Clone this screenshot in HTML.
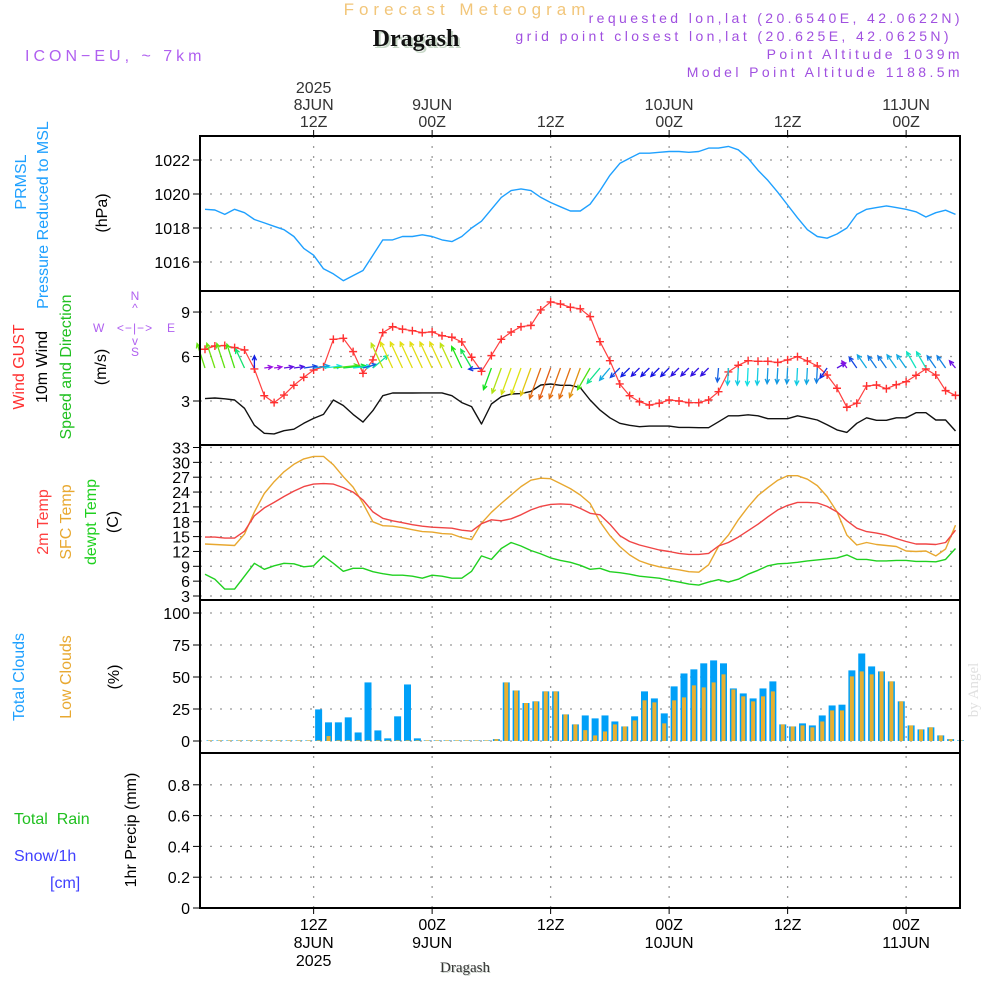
<!DOCTYPE html>
<html><head><meta charset="utf-8"><title>Forecast Meteogram Dragash</title>
<style>
html,body{margin:0;padding:0;background:#fff;}
#wrap{position:relative;width:1000px;height:1000px;overflow:hidden;font-family:"Liberation Sans",sans-serif;}
svg{position:absolute;left:0;top:0;}
</style></head>
<body>
<div id="wrap">
<svg id="chart" width="1000" height="1000" viewBox="0 0 1000 1000" xmlns="http://www.w3.org/2000/svg">
<g font-family="Liberation Sans, sans-serif">
<text x="467" y="15" text-anchor="middle" font-size="17" fill="#f2c67a" letter-spacing="5">Forecast Meteogram</text>
<text x="418" y="48" text-anchor="middle" font-size="24" font-weight="bold" font-family="Liberation Serif, serif" fill="#c8d8c8">Dragash</text>
<text x="416" y="46" text-anchor="middle" font-size="24" font-weight="bold" font-family="Liberation Serif, serif" fill="#111">Dragash</text>
<text x="25" y="61" font-size="16" fill="#b060f0" letter-spacing="4">ICON−EU, ~ 7km</text>
<text x="963" y="23" text-anchor="end" font-size="14" fill="#a050e0" letter-spacing="3.4">requested lon,lat (20.6540E, 42.0622N)</text>
<text x="952" y="41" text-anchor="end" font-size="14" fill="#a050e0" letter-spacing="3.4">grid point closest lon,lat (20.625E, 42.0625N)</text>
<text x="963" y="59" text-anchor="end" font-size="14" fill="#a050e0" letter-spacing="3.4">Point Altitude 1039m</text>
<text x="963" y="77" text-anchor="end" font-size="14" fill="#a050e0" letter-spacing="3.4">Model Point Altitude 1188.5m</text>
<text x="978" y="690" transform="rotate(-90 978 690)" text-anchor="middle" font-size="15" font-family="Liberation Serif, serif" fill="#e0e0e0">by Angel</text>
<text x="466" y="973" text-anchor="middle" font-size="15" font-family="Liberation Serif, serif" fill="#c8d0c8">Dragash</text>
<text x="465" y="972" text-anchor="middle" font-size="15" font-family="Liberation Serif, serif" fill="#333">Dragash</text>

<text transform="translate(26,182) rotate(-90)" text-anchor="middle" font-size="16" fill="#1ea0ff">PRMSL</text>
<text transform="translate(48,215) rotate(-90)" text-anchor="middle" font-size="16" fill="#1ea0ff">Pressure Reduced to MSL</text>
<text transform="translate(107,213) rotate(-90)" text-anchor="middle" font-size="16" fill="#000">(hPa)</text>
<text transform="translate(24,367) rotate(-90)" text-anchor="middle" font-size="16" fill="#ff3030">Wind GUST</text>
<text transform="translate(47,367) rotate(-90)" text-anchor="middle" font-size="16" fill="#000">10m Wind</text>
<text transform="translate(71,367) rotate(-90)" text-anchor="middle" font-size="16" fill="#20c020">Speed and Direction</text>
<text transform="translate(106,367) rotate(-90)" text-anchor="middle" font-size="16" fill="#000">(m/s)</text>
<g fill="#b060f0" font-size="12">
<text x="135" y="300" text-anchor="middle">N</text>
<text x="135" y="312" text-anchor="middle">^</text>
<text x="93" y="332">W</text>
<text x="135" y="332" text-anchor="middle" letter-spacing="1">&lt;−|−&gt;</text>
<text x="171" y="332" text-anchor="middle">E</text>
<text x="135" y="345" text-anchor="middle">v</text>
<text x="135" y="356" text-anchor="middle">S</text>
</g>
<text transform="translate(48,522) rotate(-90)" text-anchor="middle" font-size="16" fill="#ff4040">2m Temp</text>
<text transform="translate(71,522) rotate(-90)" text-anchor="middle" font-size="16" fill="#e8a830">SFC Temp</text>
<text transform="translate(96,522) rotate(-90)" text-anchor="middle" font-size="16" fill="#20d020">dewpt Temp</text>
<text transform="translate(118,522) rotate(-90)" text-anchor="middle" font-size="16" fill="#000">(C)</text>
<text transform="translate(24,677) rotate(-90)" text-anchor="middle" font-size="16" fill="#1ea0ff">Total Clouds</text>
<text transform="translate(71,677) rotate(-90)" text-anchor="middle" font-size="16" fill="#e8a830">Low Clouds</text>
<text transform="translate(119,677) rotate(-90)" text-anchor="middle" font-size="16" fill="#000">(%)</text>
<text x="14" y="824" font-size="16" fill="#20c020" xml:space="preserve">Total  Rain</text>
<text x="14" y="861" font-size="16" fill="#4040ff">Snow/1h</text>
<text x="50" y="888" font-size="16" fill="#4040ff">[cm]</text>
<text transform="translate(136,830) rotate(-90)" text-anchor="middle" font-size="16" fill="#000">1hr Precip (mm)</text>
</g>
<g id="grid"></g>
<g id="marks"></g>
<g id="frames"></g>
</svg>
</div>
<script>
const timeLabelsTop = [["2025","8JUN","12Z"],["9JUN","00Z"],["12Z"],["10JUN","00Z"],["12Z"],["11JUN","00Z"]];
const timeLabelsBottom = [["12Z","8JUN","2025"],["00Z","9JUN"],["12Z"],["00Z","10JUN"],["12Z"],["00Z","11JUN"]];
const timeTickHours = [11,23,35,47,59,71];
const pressure = [1019.1,1019.06,1018.8,1019.1,1018.9,1018.5,1018.3,1018.1,1017.9,1017.5,1016.8,1016.4,1015.6,1015.3,1014.9,1015.2,1015.5,1016.4,1017.3,1017.3,1017.5,1017.5,1017.6,1017.5,1017.3,1017.2,1017.5,1018.0,1018.4,1019.1,1019.8,1020.2,1020.3,1020.2,1019.8,1019.5,1019.25,1019.0,1019.0,1019.4,1020.2,1021.1,1021.8,1022.1,1022.4,1022.4,1022.45,1022.5,1022.5,1022.45,1022.5,1022.7,1022.7,1022.8,1022.6,1022.1,1021.4,1020.8,1020.1,1019.35,1018.6,1017.9,1017.5,1017.4,1017.65,1018.0,1018.8,1019.1,1019.2,1019.3,1019.2,1019.1,1018.95,1018.65,1018.9,1019.05,1018.8];
const pressureTicks = [1016,1018,1020,1022];
const gust = [6.49,6.71,6.74,6.6,6.44,5.16,3.36,2.89,3.4,4.06,4.6,5.09,5.31,7.16,7.23,6.33,4.87,5.77,7.61,8.01,7.84,7.74,7.61,7.66,7.4,7.3,6.98,5.95,5.0,6.06,7.16,7.65,8.01,8.1,9.14,9.68,9.54,9.32,9.22,8.69,7.0,5.72,4.15,3.36,2.95,2.73,2.85,3.07,3.0,2.89,2.89,3.07,3.63,4.96,5.41,5.72,5.68,5.68,5.6,5.77,5.99,5.7,5.36,4.75,3.86,2.58,2.85,4.01,4.08,3.83,4.1,4.3,4.73,5.16,4.75,3.7,3.38];
const wind10m = [3.16,3.2,3.15,3.07,2.51,1.36,0.82,0.78,1.0,1.1,1.5,1.83,2.1,3.07,2.7,2.1,1.58,2.35,3.36,3.54,3.54,3.54,3.55,3.55,3.55,3.36,2.89,2.62,1.45,2.8,3.29,3.47,3.5,3.65,4.08,4.15,4.06,4.06,3.9,3.07,2.39,1.87,1.5,1.36,1.27,1.31,1.31,1.31,1.22,1.22,1.2,1.2,1.6,2.0,2.0,2.07,2.0,1.81,1.81,1.81,2.0,1.87,1.72,1.4,1.05,0.88,1.5,1.87,1.7,1.7,1.87,1.87,2.21,2.21,1.72,1.72,0.98];
const windDirTo = [-18,-18,-18,-18,-25,0,82,82,82,82,82,82,84,84,84,84,75,50,-25,-25,-25,-25,-25,-25,-25,-25,-25,-30,-95,200,200,200,200,200,200,200,200,200,200,210,220,220,225,225,225,225,225,225,225,225,225,225,185,183,183,183,183,183,183,183,183,183,183,215,60,-35,-35,-35,-35,-35,-35,-35,-30,-30,-35,-35,-40];
const windTicks = [3,6,9];
const temp2m = [14.9,14.9,14.7,14.7,16.1,19.2,20.8,21.9,23.1,24.2,25.1,25.6,25.7,25.6,24.9,24.0,22.4,20.0,18.7,18.2,17.8,17.4,17.1,16.9,16.8,16.7,16.3,16.1,17.6,18.4,18.2,18.6,19.4,20.4,21.1,21.5,21.6,21.5,20.7,19.7,19.4,17.5,15.2,14.0,13.3,12.8,12.3,12.0,11.6,11.4,11.4,11.6,13.1,13.8,14.9,16.2,17.5,19.0,20.4,21.3,21.9,21.9,21.8,21.1,20.0,18.2,16.7,16.0,15.7,15.3,14.6,14.0,13.5,13.5,13.4,13.8,16.3];
const tempSfc = [13.5,13.4,13.3,13.2,15.5,20.0,23.7,26.1,28.1,29.6,30.7,31.2,31.2,29.5,27.1,25.0,21.7,18.0,17.2,17.1,16.8,16.4,16.0,15.9,15.6,15.5,14.8,14.4,17.7,19.9,21.7,23.4,25.1,26.4,26.8,26.7,25.7,24.7,23.4,21.7,18.0,15.2,13.0,11.3,10.1,9.4,8.9,8.6,8.3,7.9,7.8,9.3,13.0,15.3,18.4,21.0,23.3,24.9,26.4,27.3,27.3,26.6,25.3,23.1,20.0,15.3,13.3,13.8,13.4,13.2,13.0,12.1,12.0,12.1,11.1,12.5,17.3];
const dewpoint = [7.4,6.4,4.4,4.4,7.0,9.6,8.4,9.1,9.6,9.5,8.9,9.1,11.1,9.6,8.0,8.6,8.6,7.9,7.5,7.2,7.2,7.0,6.6,7.2,7.0,6.6,6.6,8.0,11.1,10.4,12.6,13.8,13.1,12.2,11.5,10.7,10.2,9.8,9.2,8.4,8.6,7.9,7.7,7.4,7.0,6.8,6.6,6.2,5.8,5.4,5.2,5.8,6.3,5.8,6.4,7.4,8.2,9.1,9.5,9.6,9.8,10.1,10.3,10.5,10.7,11.3,10.4,10.4,10.1,10.1,10.2,10.2,10.0,10.0,9.9,10.4,12.6];
const tempTicks = [3,6,9,12,15,18,21,24,27,30,33];
const totalClouds = [0,0,0,0,0,0,0,0,0,0,0,24.2,14.1,14.1,18,6.2,45.3,7.8,1.6,18.8,43.7,1.6,0,0,0,0,0,0,0,1,45.3,39,29.2,30.5,38.3,38.3,20.3,12.5,19.5,17.2,19.5,14.8,10.9,18.8,38.3,32.8,21.1,42.2,52.3,55.5,60.2,62.5,60.2,40.6,36.7,32.8,40.6,46.1,12.5,10.9,13.3,11.7,19.5,27.3,27.9,54.7,67.9,57.8,53.9,46.1,30.5,11.7,8.6,10.2,3.9,1,0];
const lowClouds = [0,0,0,0,0,0,0,0,0,0,0,0,3.4,0,0,0,0,0,0,0,0,0,0,0,0,0,0,0,0,1,45.3,39,29.2,30.5,38.3,38.3,20.3,12.5,8,3.9,7,12.5,10.9,15.6,31.3,29.7,13.3,31.3,33.6,43,41.4,45.3,51.6,39.8,34.4,30.5,34.4,38.3,12.5,10.9,11.7,10.2,14.8,23.4,23.4,50,53.9,51.6,53.9,46.1,30.5,11.7,8.6,10.2,3.9,1,0];
const cloudTicks = [0,25,50,75,100];
const precip = new Array(77).fill(0);
const precipTicks = [0,0.2,0.4,0.6,0.8];

const NS='http://www.w3.org/2000/svg';
const X0=200, X1=960;
const xOf = i => 205 + i*9.875;
const yP = p => 160 + (1022-p)*17;
const yW = v => 445.5 - v*14.83;
const yT = t => 596 - (t-3)*4.95;
const yC = c => 741 - c*1.28;
const yR = r => 908 - r*154;
const panels=[{name:'pressure-panel',top:136,bot:291},{name:'wind-panel',top:291,bot:445},{name:'temperature-panel',top:445,bot:600},{name:'clouds-panel',top:600,bot:753},{name:'precip-panel',top:753,bot:908}];
const grid=document.getElementById('grid'), marks=document.getElementById('marks'), frames=document.getElementById('frames');
function mk(tag,attrs,parent){const e=document.createElementNS(NS,tag);for(const k in attrs)e.setAttribute(k,attrs[k]);parent.appendChild(e);return e;}

timeTickHours.forEach((h,k)=>{
  const x=xOf(h);
  const g=mk('line',{x1:x,y1:136,x2:x,y2:908,stroke:'#999','stroke-width':1.3,'stroke-dasharray':'2,8'},grid);
  
  
  const t1=mk('line',{x1:x,y1:130,x2:x,y2:136,stroke:'#000','stroke-width':1},frames);
  
  
  const t2=mk('line',{x1:x,y1:908,x2:x,y2:914,stroke:'#000','stroke-width':1},frames);
  
  
  const top=timeLabelsTop[k];
  top.forEach((s,j)=>{
    const t=mk('text',{x:x,y:127-(top.length-1-j)*17,'text-anchor':'middle','font-size':16,fill:'#333','font-family':'Liberation Sans, sans-serif'},frames);
    t.textContent=s;
    
    
  });
  timeLabelsBottom[k].forEach((s,j)=>{
    const t=mk('text',{x:x,y:930+j*18,'text-anchor':'middle','font-size':16,fill:'#000','font-family':'Liberation Sans, sans-serif'},frames);
    t.textContent=s;
    
    
  });
});
function yAxis(ticks,fn,name){
  ticks.forEach(v=>{
    const y=fn(v);
    const g=mk('line',{x1:X0,y1:y,x2:X1,y2:y,stroke:'#999','stroke-width':1.3,'stroke-dasharray':'2,8'},grid);
    
    
    const t=mk('line',{x1:193,y1:y,x2:X0,y2:y,stroke:'#000','stroke-width':1},frames);
    
    
    const l=mk('text',{x:190,y:y+6,'text-anchor':'end','font-size':16,fill:'#000','font-family':'Liberation Sans, sans-serif'},frames);
    l.textContent=String(v);
    
    
  });
}
yAxis(pressureTicks,yP,'pressure');
yAxis(windTicks,yW,'wind');
yAxis(tempTicks,yT,'temperature');
yAxis(cloudTicks,yC,'clouds');
yAxis(precipTicks,yR,'precip');

function line(arr,fn,color,name,w){
  const pts=arr.map((v,i)=>xOf(i).toFixed(1)+','+fn(v).toFixed(1)).join(' ');
  const p=mk('polyline',{points:pts,fill:'none',stroke:color,'stroke-width':w||1.4,'stroke-linejoin':'round'},marks);
  
  
}
line(pressure,yP,'#1ea0ff','pressure-line');
line(wind10m,yW,'#111','wind10m-line');
line(gust,yW,'#ff4040','gust-line',1.2);
gust.forEach((v,i)=>{
  const x=xOf(i),y=yW(v);
  const m=mk('path',{d:`M${x-4} ${y}H${x+4}M${x} ${y-4}V${y+4}`,stroke:'#ff3030','stroke-width':1.4},marks);
  
  
});
function windColor(v){let h=280-78*(v-0.8);if(v>3.2)h=80-(v-3.2)*62;h=Math.max(20,Math.min(280,h));return `hsl(${h},85%,48%)`;}
windDirTo.forEach((d,i)=>{
  const v=wind10m[i],L=7.5*v+2,a=d*Math.PI/180;
  const x0=xOf(i),y0=368,x1=x0+Math.sin(a)*L,y1=y0-Math.cos(a)*L;
  const ha1=a+Math.PI-0.45,ha2=a+Math.PI+0.45,hl=5;
  const dd=`M${x0.toFixed(1)} ${y0}L${x1.toFixed(1)} ${y1.toFixed(1)}M${(x1+Math.sin(ha1)*hl).toFixed(1)} ${(y1-Math.cos(ha1)*hl).toFixed(1)}L${x1.toFixed(1)} ${y1.toFixed(1)}L${(x1+Math.sin(ha2)*hl).toFixed(1)} ${(y1-Math.cos(ha2)*hl).toFixed(1)}`;
  const ar=mk('path',{d:dd,stroke:windColor(v),'stroke-width':1.3,fill:'none'},marks);
  
  
});
line(tempSfc,yT,'#e8a830','sfc-temp-line');
line(temp2m,yT,'#f04545','temp2m-line');
line(dewpoint,yT,'#20d020','dewpoint-line');
totalClouds.forEach((c,i)=>{
  const x=xOf(i)+5;
  const b=mk('rect',{x:x-3.5,y:yC(c)-0.6,width:7,height:Math.max(0.6,c*1.28+0.6),fill:'#00a0f8'},marks);
  
  
  const lc=lowClouds[i];
  const o=mk('rect',{x:x-2,y:yC(lc)-0.6,width:4,height:Math.max(0.6,lc*1.28+0.6),fill:'#e8b030'},marks);
  
  
});
line(precip,yR,'#000','precip-line',1);

panels.forEach(p=>{
  const r=mk('rect',{x:X0,y:p.top,width:X1-X0,height:p.bot-p.top,fill:'none',stroke:'#000','stroke-width':2},frames);
  
  
});
</script>
</body></html>
